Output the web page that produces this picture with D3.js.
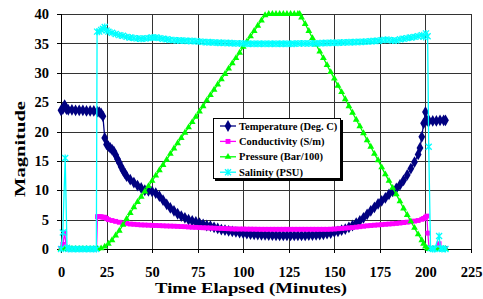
<!DOCTYPE html>
<html>
<head>
<meta charset="utf-8">
<script src="https://cdn.jsdelivr.net/npm/d3@7"></script>
<style>
  body { margin: 0; background: #fff; }
  text { font-family: "Liberation Serif", "Times New Roman", serif; font-weight: bold; }
</style>
</head>
<body>
<div id="chart"></div>
<script>
// data (minutes, value)
const tempTime = [0,1,2,3,4,6,8,10,12,14,16,18,20,21,22,23,24,25,26,27,28,29,30,31,32,33,34,35,36,38,40,42,44,46,48,50,52,54,56,58,60,62,64,66,68,70,72,74,76,78,80,82,84,86,88,90,92,94,96,98,100,102,104,106,108,110,112,114,116,118,120,122,124,126,128,130,132,134,136,138,140,142,144,146,148,150,152,154,156,158,160,162,164,166,168,170,172,174,176,178,180,182,184,186,188,190,192,194,196,197,198,199,200,201,202,204,206,208,210,211];
const temp = [23.6,23.8,24.5,23.8,23.7,23.7,23.6,23.6,23.6,23.5,23.5,23.5,23.4,23.3,23.1,22.6,18.9,17.8,17.5,17.2,16.9,16.6,16.0,15.3,14.7,14.0,13.4,12.9,12.4,11.8,11.3,10.8,10.4,10.0,9.9,9.8,9.5,9.0,8.3,7.6,7.0,6.5,6.0,5.6,5.3,5.0,4.8,4.6,4.4,4.2,4.0,3.9,3.7,3.5,3.3,3.2,3.1,3.0,2.9,2.8,2.7,2.6,2.55,2.5,2.45,2.42,2.4,2.37,2.35,2.32,2.3,2.3,2.3,2.3,2.3,2.3,2.3,2.3,2.35,2.37,2.4,2.45,2.5,2.6,2.7,2.9,3.0,3.2,3.4,3.7,4.0,4.4,4.8,5.3,5.9,6.5,7.1,7.7,8.2,8.7,9.3,9.8,10.3,10.9,11.7,12.6,13.7,14.8,16.1,17.2,19.1,21.4,23.3,21.8,21.8,21.8,21.8,21.9,21.9,21.9];

const condTime = [0,1,2,3,4,6,8,10,12,14,16,18,19.5,20,21,22,23,24,25,26,28,30,32,34,36,38,40,42,44,46,48,50,52,54,56,58,60,62,64,66,68,70,72,74,76,78,80,82,84,86,88,90,92,94,96,98,100,102,104,106,108,110,112,114,116,118,120,122,124,126,128,130,132,134,136,138,140,142,144,146,148,150,152,154,156,158,160,162,164,166,168,170,172,174,176,178,180,182,184,186,188,190,192,194,196,198,199,200,200.8,201.3,202,203,205,207.5,208,210,211];
const cond = [0.1,0.8,2.7,0.1,0,0,0,0,0,0,0,0,0.05,5.5,5.5,5.5,5.4,5.4,5.2,5.0,4.85,4.7,4.55,4.45,4.35,4.25,4.2,4.15,4.1,4.08,4.05,4.02,4.0,3.98,3.95,3.92,3.9,3.88,3.85,3.82,3.8,3.75,3.7,3.68,3.65,3.62,3.6,3.58,3.55,3.52,3.5,3.48,3.45,3.42,3.4,3.4,3.4,3.38,3.38,3.37,3.36,3.35,3.35,3.35,3.35,3.35,3.35,3.35,3.35,3.35,3.35,3.35,3.35,3.35,3.35,3.35,3.35,3.35,3.35,3.35,3.37,3.4,3.45,3.5,3.55,3.6,3.65,3.72,3.8,3.87,3.95,4.0,4.05,4.1,4.15,4.2,4.25,4.3,4.35,4.42,4.5,4.57,4.65,4.75,4.85,5.05,5.2,5.4,5.6,2.7,0.1,0.1,0.1,0.9,0.1,0.1,0.1];

const presTime = [0,2,4,6,8,10,12,14,16,18,20,22,24,26,28,30,32,34,36,38,40,42,44,46,48,50,52,54,56,58,60,62,64,66,68,70,72,74,76,78,80,82,84,86,88,90,92,94,96,98,100,102,104,106,108,110,112,114,116,118,120,122,124,126,128,130,131,132,134,136,138,140,142,144,146,148,150,152,154,156,158,160,162,164,166,168,170,172,174,176,178,180,182,184,186,188,190,192,194,196,198,199,200,201,202,204,206,208,210,211];
const pres = [0,0,0,0,0,0,0,0,0,0,0,0.1,0.4,0.9,1.5,2.3,3.1,4.1,5.1,6.1,7.1,8.0,8.9,9.8,10.7,11.6,12.5,13.4,14.3,15.2,16.2,17.1,18.0,18.9,19.8,20.7,21.6,22.5,23.4,24.3,25.3,26.2,27.1,28.0,28.9,29.8,30.7,31.6,32.5,33.4,34.4,35.3,36.2,37.1,38.0,38.9,39.8,40,40,40,40,40,40,40,40,40,40,39.4,38.3,37.1,35.9,34.8,33.6,32.5,31.3,30.1,29.0,27.8,26.7,25.5,24.3,23.2,22.0,20.9,19.7,18.5,17.4,16.2,15.1,13.9,12.7,11.6,10.4,9.3,8.1,6.9,5.8,4.7,3.6,2.5,1.5,0.9,0.4,0.1,0,0,0,0,0,0];

const salTime = [0,1,2.3,3.3,4,6,8,10,12,14,16,18,19.4,19.8,21,22,23,24,25,26,28,30,32,34,36,38,40,42,44,46,48,50,52,54,56,58,60,62,64,66,68,70,72,74,76,78,80,82,84,86,88,90,92,94,96,98,100,102,104,106,108,110,112,114,116,118,120,122,124,126,128,130,132,134,136,138,140,142,144,146,148,150,152,154,156,158,160,162,164,166,168,170,172,174,176,178,180,182,184,186,188,190,192,194,196,198,199,200.3,201.2,201.8,202.8,204,205,207.5,208.3,209,211];
const sal = [0,2.8,15.5,0.2,0,0,0,0,0,0,0,0,0,37.0,37.0,37.3,37.5,37.8,37.2,37.0,36.8,36.6,36.4,36.3,36.1,36.0,35.9,35.85,35.8,35.85,35.9,36.0,36.0,35.9,35.8,35.7,35.6,35.55,35.5,35.48,35.45,35.42,35.4,35.35,35.3,35.25,35.2,35.18,35.15,35.12,35.1,35.08,35.05,35.02,35.0,35.0,35.0,34.95,34.95,34.95,34.95,34.95,34.95,34.95,34.95,34.95,34.95,34.95,34.95,34.95,34.95,35.0,35.0,35.0,35.0,35.0,35.0,35.02,35.05,35.07,35.1,35.1,35.12,35.15,35.17,35.2,35.2,35.22,35.25,35.28,35.3,35.35,35.4,35.45,35.55,35.6,35.6,35.5,35.5,35.7,35.8,35.9,36.0,36.1,36.2,36.4,36.1,36.7,36.2,17.4,0.1,0,0,2.2,0.1,0,0];

const xTicks = [0,25,50,75,100,125,150,175,200,225];
const yTicks = [0,5,10,15,20,25,30,35,40];

const series = [
    {name: "Temperature (Deg. C)", t: tempTime, v: temp, color: "#000080", marker: "diamond"},
    {name: "Conductivity (S/m)", t: condTime, v: cond, color: "#ff00ff", marker: "square"},
    {name: "Pressure (Bar/100)", t: presTime, v: pres, color: "#00ff00", marker: "triangle"},
    {name: "Salinity (PSU)", t: salTime, v: sal, color: "#00ffff", marker: "star"}
];

// set dimensions
const width = 483,
    height = 299,
    margin = {top: 14, right: 12, bottom: 50, left: 61};

const svg = d3.select("#chart")
    .append("svg")
    .attr("width", width)
    .attr("height", height);

// scales
const xScale = d3.scaleLinear()
    .domain([0, 225])
    .range([margin.left, width - margin.right]);

const yScale = d3.scaleLinear()
    .domain([0, 40])
    .range([height - margin.bottom, margin.top]);

// gridlines
svg.append("g")
    .attr("transform", "translate(0," + (height - margin.bottom) + ")")
    .call(d3.axisBottom(xScale).tickValues(xTicks).tickSize(-(height - margin.bottom - margin.top)).tickFormat(""))
    .call(g => g.select(".domain").remove())
    .selectAll("line").attr("stroke", "#333").attr("shape-rendering", "crispEdges");

svg.append("g")
    .attr("transform", "translate(" + margin.left + ",0)")
    .call(d3.axisLeft(yScale).tickValues(yTicks).tickSize(-(width - margin.right - margin.left)).tickFormat(""))
    .call(g => g.select(".domain").remove())
    .selectAll("line").attr("stroke", "#333").attr("shape-rendering", "crispEdges");

// axes
const xAxis = svg.append("g")
    .attr("transform", "translate(0," + (height - margin.bottom) + ")")
    .call(d3.axisBottom(xScale).tickValues(xTicks).tickSize(4).tickPadding(14));

const yAxis = svg.append("g")
    .attr("transform", "translate(" + margin.left + ",0)")
    .call(d3.axisLeft(yScale).tickValues(yTicks).tickSize(4).tickPadding(8));

[xAxis, yAxis].forEach(a => {
    a.selectAll("line, .domain").attr("stroke", "#000").attr("shape-rendering", "crispEdges");
    a.selectAll("text")
        .style("font-family", "'Liberation Serif', serif")
        .style("font-weight", "bold")
        .style("font-size", "14.5px")
        .attr("fill", "#000");
});

// axis titles
svg.append("text")
    .attr("x", 251)
    .attr("y", 293)
    .attr("text-anchor", "middle")
    .attr("textLength", 192)
    .attr("lengthAdjust", "spacingAndGlyphs")
    .style("font-size", "14px")
    .text("Time Elapsed (Minutes)");

svg.append("text")
    .attr("transform", "translate(25,149) rotate(-90)")
    .attr("text-anchor", "middle")
    .attr("textLength", 96)
    .attr("lengthAdjust", "spacingAndGlyphs")
    .style("font-size", "15px")
    .text("Magnitude");

// markers
function drawMarker(g, type, color) {
    if (type === "diamond") {
        g.append("path").attr("d", d3.symbol(d3.symbolDiamond, 40)()).attr("fill", color);
    } else if (type === "square") {
        g.append("path").attr("d", d3.symbol(d3.symbolSquare, 24)()).attr("fill", color);
    } else if (type === "triangle") {
        g.append("path").attr("d", d3.symbol(d3.symbolTriangle, 20)()).attr("fill", color);
    } else {
        g.append("path")
            .attr("d", "M-3,-3L3,3M-3,3L3,-3M0,-3.5L0,3.5")
            .attr("stroke", color)
            .attr("stroke-width", 1.3)
            .attr("fill", "none");
    }
}

const line = d3.line()
    .x(d => xScale(d[0]))
    .y(d => yScale(d[1]));

series.forEach(s => {
    const pts = s.t.map((t, i) => [t, s.v[i]]);
    const g = svg.append("g");
    g.append("path")
        .datum(pts)
        .attr("d", line)
        .attr("fill", "none")
        .attr("stroke", s.color)
        .attr("stroke-width", 1.3);
    g.selectAll("g.pt")
        .data(pts)
        .enter()
        .append("g")
        .attr("class", "pt")
        .attr("transform", d => `translate(${xScale(d[0])},${yScale(d[1])})`)
        .each(function () { drawMarker(d3.select(this), s.marker, s.color); });
});

// legend
const legend = svg.append("g").attr("transform", "translate(213,118)");
legend.append("rect")
    .attr("x", 2).attr("y", 2)
    .attr("width", 128).attr("height", 61)
    .attr("fill", "#000");
legend.append("rect")
    .attr("x", 0.5).attr("y", 0.5)
    .attr("width", 127).attr("height", 60)
    .attr("fill", "#fff")
    .attr("stroke", "#000");

const item = legend.selectAll("g.item")
    .data(series)
    .enter()
    .append("g")
    .attr("class", "item")
    .attr("transform", (d, i) => `translate(0,${8 + i * 15.4})`);

item.append("line")
    .attr("x1", 7).attr("x2", 23)
    .attr("stroke", d => d.color)
    .attr("stroke-width", 1.3);

item.each(function (d) {
    const m = d3.select(this).append("g").attr("transform", "translate(15,0)");
    drawMarker(m, d.marker, d.color);
});

item.append("text")
    .attr("x", 26)
    .attr("dy", "0.35em")
    .style("font-size", "10.5px")
    .text(d => d.name);
</script>
</body>
</html>
